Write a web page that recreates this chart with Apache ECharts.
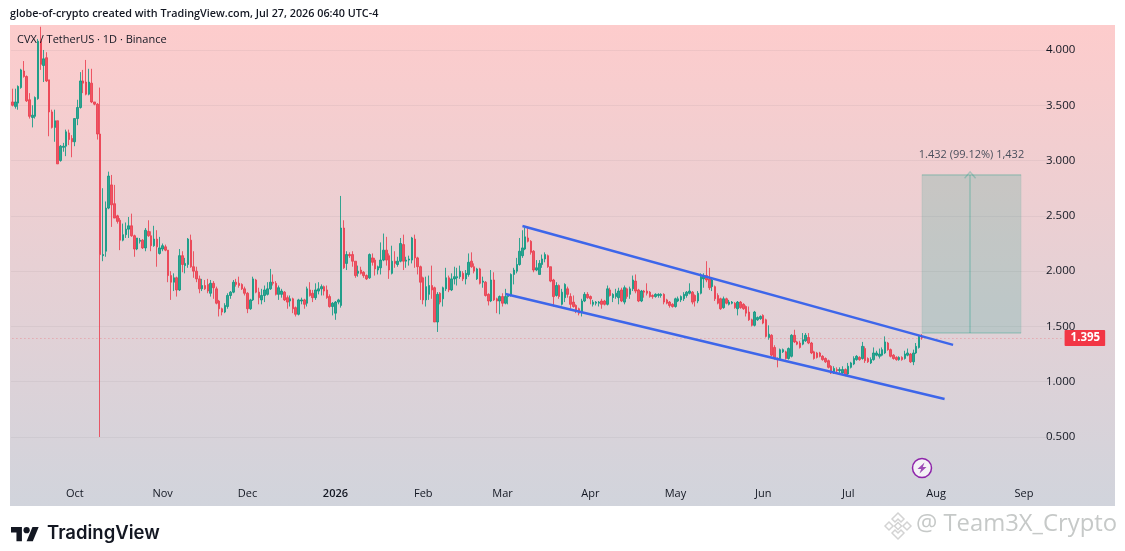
<!DOCTYPE html>
<html><head><meta charset="utf-8">
<style>html,body{margin:0;padding:0;background:#fff}#c{width:1125px;height:551px}</style>
<script src="https://cdn.jsdelivr.net/npm/echarts@6/dist/echarts.min.js"></script>
</head><body><div id="c"></div>
<script>
const startDate = Date.UTC(2025, 8, 9);
const axisDays = 372;
const opens = [
3.53,3.49,3.52,3.66,3.81,3.76,3.55,3.39,3.40,3.56,
4.08,3.86,3.93,3.73,3.44,3.30,3.36,3.00,3.12,3.13,
3.25,3.20,3.17,3.38,3.48,3.72,3.71,3.60,3.70,3.53,
3.51,3.24,2.14,2.18,2.57,2.78,2.61,2.50,2.46,2.28,
2.33,2.38,2.41,2.32,2.20,2.27,2.28,2.21,2.36,2.32,
2.23,2.29,2.16,2.20,2.22,2.19,1.96,1.90,1.94,1.83,
2.14,2.05,2.06,2.28,2.04,2.00,1.93,1.84,1.87,1.88,
1.80,1.89,1.84,1.73,1.66,1.63,1.68,1.78,1.81,1.90,
1.89,1.88,1.84,1.80,1.66,1.74,1.92,1.81,1.74,1.78,
1.79,1.84,1.90,1.89,1.79,1.79,1.81,1.76,1.73,1.75,
1.67,1.61,1.73,1.74,1.71,1.83,1.80,1.76,1.82,1.84,
1.86,1.83,1.77,1.68,1.62,1.72,1.69,2.39,2.07,2.15,
2.15,2.09,1.98,2.01,1.99,1.96,1.94,2.12,2.10,2.01,
2.03,2.10,2.19,2.14,1.98,2.09,2.06,2.09,2.24,2.09,
2.10,2.10,2.29,2.12,2.04,1.94,1.74,1.79,1.87,1.85,
1.54,1.80,1.75,1.84,1.94,1.83,1.93,1.94,1.95,1.98,
1.93,1.97,2.09,2.04,1.93,2.02,1.90,1.90,1.79,1.73,
1.92,1.75,1.73,1.77,1.71,1.77,1.78,1.97,2.00,2.06,
2.14,2.20,2.30,2.27,2.18,2.01,1.97,2.06,2.11,2.14,
2.04,1.92,1.78,1.87,1.70,1.76,1.84,1.77,1.72,1.69,
1.66,1.63,1.73,1.79,1.77,1.70,1.71,1.71,1.73,1.73,
1.70,1.83,1.76,1.77,1.76,1.83,1.72,1.84,1.79,1.84,
1.91,1.83,1.73,1.82,1.82,1.81,1.78,1.77,1.78,1.78,
1.79,1.74,1.72,1.70,1.68,1.73,1.74,1.75,1.78,1.80,
1.81,1.78,1.73,1.80,1.93,1.96,1.93,1.86,1.86,1.78,
1.75,1.67,1.75,1.70,1.71,1.71,1.66,1.72,1.70,1.68,
1.63,1.56,1.51,1.56,1.57,1.60,1.56,1.40,1.42,1.31,
1.21,1.21,1.27,1.27,1.21,1.23,1.42,1.36,1.35,1.34,
1.37,1.40,1.35,1.27,1.26,1.26,1.23,1.21,1.19,1.14,
1.08,1.11,1.10,1.08,1.11,1.07,1.13,1.16,1.20,1.22,
1.21,1.30,1.21,1.17,1.20,1.24,1.23,1.24,1.26,1.35,
1.29,1.24,1.22,1.20,1.22,1.21,1.24,1.25,1.18,1.26,
1.31,1.41];
const closes = [
3.50,3.53,3.67,3.82,3.76,3.54,3.40,3.41,3.57,4.08,
3.87,3.92,3.72,3.44,3.30,3.36,2.97,3.13,3.13,3.26,
3.19,3.17,3.38,3.48,3.72,3.70,3.60,3.71,3.53,3.51,
3.24,2.15,2.15,2.57,2.86,2.60,2.48,2.45,2.28,2.33,
2.38,2.41,2.32,2.20,2.30,2.28,2.21,2.37,2.32,2.23,
2.29,2.22,2.21,2.23,2.19,1.96,1.90,1.94,1.83,2.14,
2.06,2.07,2.29,2.04,2.00,1.93,1.84,1.87,1.84,1.82,
1.89,1.85,1.71,1.66,1.63,1.69,1.78,1.81,1.90,1.88,
1.87,1.84,1.80,1.66,1.74,1.93,1.81,1.76,1.78,1.83,
1.84,1.90,1.89,1.79,1.85,1.82,1.74,1.72,1.75,1.66,
1.61,1.74,1.74,1.70,1.84,1.78,1.76,1.83,1.84,1.86,
1.82,1.76,1.68,1.71,1.72,1.74,2.39,2.03,2.15,2.14,
2.09,1.96,2.00,1.98,1.96,1.93,2.15,2.08,2.02,2.04,
2.10,2.19,2.10,2.01,2.09,2.07,2.09,2.25,2.09,2.10,
2.11,2.30,2.12,2.04,1.90,1.74,1.86,1.87,1.83,1.54,
1.79,1.72,1.85,1.94,1.83,1.93,1.95,1.95,2.00,1.93,
1.98,2.08,2.04,2.00,2.02,1.89,1.91,1.78,1.73,1.92,
1.74,1.73,1.77,1.71,1.77,1.78,1.97,2.01,2.06,2.18,
2.21,2.31,2.27,2.17,2.01,2.03,2.07,2.11,2.15,2.04,
1.91,1.77,1.87,1.77,1.81,1.88,1.79,1.70,1.68,1.65,
1.62,1.73,1.79,1.76,1.75,1.72,1.72,1.72,1.70,1.70,
1.84,1.78,1.79,1.80,1.82,1.73,1.85,1.77,1.84,1.92,
1.82,1.73,1.82,1.81,1.80,1.77,1.77,1.79,1.79,1.79,
1.72,1.71,1.69,1.68,1.75,1.75,1.77,1.79,1.81,1.82,
1.72,1.73,1.80,1.95,1.96,1.92,1.85,1.92,1.75,1.71,
1.66,1.75,1.71,1.72,1.72,1.67,1.72,1.67,1.66,1.62,
1.56,1.51,1.63,1.58,1.59,1.53,1.41,1.43,1.24,1.21,
1.20,1.29,1.29,1.21,1.30,1.42,1.36,1.34,1.31,1.38,
1.42,1.35,1.26,1.21,1.22,1.23,1.20,1.18,1.13,1.08,
1.12,1.10,1.11,1.11,1.06,1.14,1.17,1.21,1.23,1.20,
1.32,1.19,1.18,1.20,1.26,1.26,1.25,1.29,1.36,1.29,
1.23,1.21,1.20,1.22,1.20,1.25,1.26,1.18,1.26,1.32,
1.41,1.395];
const lows = [
3.49,3.47,3.46,3.65,3.75,3.53,3.38,3.30,3.38,3.55,
3.82,3.71,3.71,3.22,3.29,3.17,2.97,2.99,3.08,3.04,
3.14,3.03,3.13,3.32,3.47,3.61,3.59,3.59,3.52,3.50,
3.19,0.50,2.09,2.13,2.56,2.40,2.48,2.43,2.19,2.27,
2.30,2.30,2.31,2.13,2.19,2.25,2.20,2.18,2.31,2.18,
2.22,2.04,2.15,2.18,2.18,1.90,1.74,1.82,1.77,1.82,
1.99,1.98,2.03,2.03,1.94,1.90,1.80,1.82,1.83,1.80,
1.77,1.75,1.70,1.59,1.60,1.62,1.66,1.75,1.80,1.86,
1.85,1.83,1.78,1.62,1.65,1.73,1.80,1.70,1.70,1.72,
1.78,1.83,1.87,1.78,1.74,1.76,1.73,1.66,1.68,1.62,
1.59,1.60,1.70,1.66,1.68,1.77,1.72,1.74,1.79,1.78,
1.78,1.75,1.67,1.60,1.56,1.70,1.67,2.02,2.01,2.12,
2.04,1.94,1.95,1.97,1.94,1.92,1.93,2.05,1.96,1.97,
1.97,2.09,2.05,1.93,1.97,2.03,2.04,2.08,2.01,2.03,
2.05,2.07,2.03,1.97,1.74,1.70,1.68,1.74,1.75,1.54,
1.45,1.70,1.68,1.82,1.81,1.82,1.88,1.87,1.93,1.91,
1.88,1.95,2.03,1.98,1.92,1.88,1.85,1.77,1.69,1.72,
1.73,1.62,1.61,1.68,1.70,1.70,1.77,1.88,1.98,2.05,
2.12,2.19,2.26,2.15,1.99,2.00,1.97,2.03,2.08,2.03,
1.90,1.68,1.77,1.75,1.69,1.72,1.76,1.66,1.67,1.62,
1.60,1.59,1.72,1.75,1.70,1.68,1.69,1.68,1.66,1.69,
1.69,1.77,1.72,1.75,1.70,1.72,1.70,1.75,1.75,1.82,
1.80,1.72,1.72,1.76,1.78,1.76,1.75,1.76,1.76,1.76,
1.70,1.70,1.67,1.67,1.67,1.72,1.72,1.73,1.76,1.79,
1.70,1.68,1.71,1.79,1.85,1.90,1.83,1.82,1.73,1.70,
1.65,1.66,1.70,1.69,1.70,1.66,1.60,1.66,1.65,1.59,
1.55,1.50,1.50,1.55,1.56,1.52,1.40,1.38,1.23,1.20,
1.13,1.20,1.26,1.20,1.20,1.22,1.35,1.33,1.30,1.33,
1.36,1.34,1.25,1.20,1.21,1.22,1.19,1.17,1.12,1.07,
1.07,1.08,1.08,1.07,1.05,1.06,1.12,1.15,1.19,1.19,
1.20,1.17,1.17,1.16,1.19,1.23,1.21,1.23,1.25,1.28,
1.22,1.20,1.19,1.19,1.19,1.20,1.23,1.17,1.15,1.25,
1.30,1.38];
const highs = [
3.65,3.65,3.68,3.83,3.90,3.77,3.61,3.50,3.58,4.10,
4.21,4.00,3.98,3.73,3.46,3.46,3.36,3.14,3.16,3.28,
3.28,3.23,3.38,3.55,3.80,3.82,3.91,3.83,3.83,3.53,
3.52,3.66,2.75,2.63,2.90,2.87,2.78,2.51,2.48,2.43,
2.44,2.49,2.52,2.33,2.30,2.30,2.29,2.39,2.46,2.36,
2.41,2.37,2.31,2.25,2.24,2.19,2.00,1.98,1.95,2.20,
2.18,2.12,2.30,2.33,2.18,2.04,1.96,1.93,1.92,1.93,
1.92,1.91,1.86,1.74,1.67,1.71,1.80,1.82,1.92,1.93,
1.95,1.89,1.86,1.81,1.75,1.95,1.93,1.85,1.84,1.87,
1.90,2.02,1.97,1.91,1.87,1.84,1.82,1.78,1.78,1.76,
1.68,1.75,1.76,1.75,1.86,1.90,1.83,1.89,1.90,1.88,
1.87,1.87,1.79,1.72,1.73,1.75,2.68,2.46,2.18,2.17,
2.18,2.09,2.05,2.04,2.00,1.97,2.16,2.16,2.12,2.05,
2.26,2.34,2.31,2.16,2.23,2.18,2.13,2.30,2.33,2.13,
2.14,2.31,2.33,2.13,2.05,1.95,1.95,1.96,2.05,1.86,
1.81,1.81,1.86,2.03,1.96,1.98,2.04,2.03,2.05,2.00,
2.01,2.16,2.17,2.07,2.03,2.03,1.95,1.91,1.80,2.01,
1.99,1.76,1.78,1.80,1.84,1.79,1.98,2.03,2.12,2.30,
2.37,2.39,2.39,2.28,2.19,2.10,2.10,2.15,2.17,2.15,
2.04,1.93,1.90,1.88,1.84,1.89,1.86,1.80,1.78,1.70,
1.67,1.75,1.81,1.81,1.78,1.74,1.73,1.73,1.75,1.74,
1.87,1.85,1.80,1.84,1.85,1.85,1.87,1.85,1.86,1.96,
1.97,1.84,1.83,1.83,1.89,1.82,1.79,1.80,1.80,1.80,
1.80,1.75,1.73,1.71,1.76,1.77,1.78,1.81,1.82,1.89,
1.82,1.79,1.82,1.98,1.98,2.09,2.03,1.94,1.87,1.80,
1.76,1.77,1.76,1.74,1.73,1.72,1.73,1.73,1.71,1.69,
1.68,1.57,1.64,1.59,1.60,1.61,1.57,1.51,1.43,1.33,
1.22,1.30,1.30,1.28,1.31,1.43,1.47,1.37,1.37,1.44,
1.44,1.44,1.36,1.28,1.27,1.27,1.24,1.22,1.20,1.15,
1.14,1.13,1.13,1.14,1.12,1.17,1.18,1.23,1.24,1.23,
1.36,1.32,1.22,1.22,1.31,1.28,1.30,1.31,1.41,1.36,
1.30,1.25,1.23,1.23,1.23,1.28,1.30,1.26,1.29,1.35,
1.42,1.43];
const upperChannelDates = ['2026-03-08','2026-08-07'];
const upperChannelPrices = [2.408,1.334];
const lowerChannelDates = ['2026-03-02','2026-08-04'];
const lowerChannelPrices = [1.793,0.844];
const rangeStart = '2026-07-27', rangeMid = '2026-08-13', rangeEnd = '2026-08-31';
const rangeLow = 1.44, rangeHigh = 2.872;
const rangeLabel = '1.432 (99.12%) 1,432';
const lastPrice = 1.395;
const monthNames = ['Jan','Feb','Mar','Apr','May','Jun','Jul','Aug','Sep','Oct','Nov','Dec'];
const headerText = 'globe-of-crypto created with TradingView.com, Jul 27, 2026 06:40 UTC-4';
const symbolText = 'CVX / TetherUS · 1D · Binance';
const brandText = 'TradingView';
const watermarkText = '@ Team3X_Crypto';

const dates = [];
for (let i = 0; i < axisDays; i++) {
  dates.push(new Date(startDate + i * 86400000).toISOString().slice(0, 10));
}
const candles = opens.map((o, i) => [o, closes[i], lows[i], highs[i]]);
const UP = '#089981', DOWN = '#ec3a4c';
const FONT = '"Open Sans", Roboto, sans-serif';

const chart = echarts.init(document.getElementById('c'), null, {renderer: 'canvas'});
chart.setOption({
  animation: false,
  backgroundColor: '#ffffff',
  grid: {left: 11, top: 25, width: 1054, height: 467.3, containLabel: false},
  xAxis: {
    type: 'category', data: dates, boundaryGap: true, offset: -4,
    axisLine: {show: false}, axisTick: {show: false}, splitLine: {show: false},
    axisLabel: {
      margin: 0, hideOverlap: false, fontFamily: FONT, fontSize: 11, color: '#131722',
      interval: (i, v) => v.slice(8) === '01',
      formatter: v => {
        const m = +v.slice(5, 7);
        return m === 1 ? '{b|' + v.slice(0, 4) + '}' : monthNames[m - 1];
      },
      rich: {b: {fontFamily: FONT, fontSize: 11, fontWeight: 600, color: '#131722'}}
    }
  },
  yAxis: {
    type: 'value', position: 'right', min: 0, max: 4.226, interval: 0.5, scale: false,
    axisLine: {show: false}, axisTick: {show: false},
    splitLine: {show: true, showMinLine: false, showMaxLine: false,
      lineStyle: {color: 'rgba(120,110,120,0.09)', width: 1}},
    axisLabel: {
      margin: -19, align: 'left', fontFamily: FONT, fontSize: 11.5, color: '#131722',
      showMinLabel: false, showMaxLabel: false,
      formatter: v => (v > 0 && v <= 4) ? v.toFixed(3) : ''
    }
  },
  series: [
    {
      type: 'candlestick', name: 'CVX', data: candles, barWidth: 2, z: 3,
      itemStyle: {color: UP, color0: DOWN, borderColor: UP, borderColor0: DOWN, borderWidth: 1, opacity: 0.82},
      markArea: {
        silent: true,
        itemStyle: {color: 'rgba(8,153,129,0.17)', borderColor: 'rgba(8,153,129,0.08)', borderWidth: 1},
        label: {show: true, position: 'top', distance: 14, color: '#4a4f5c',
          fontFamily: FONT, fontSize: 11, formatter: rangeLabel},
        data: [[{xAxis: rangeStart, yAxis: rangeLow}, {xAxis: rangeEnd, yAxis: rangeHigh}]]
      },
      markLine: {
        silent: true, symbol: 'none', animation: false,
        data: [
          [{coord: [rangeStart, rangeHigh], lineStyle: {color: 'rgba(8,153,129,0.2)', width: 1.5, type: 'solid'}, label: {show: false}},
           {coord: [rangeEnd, rangeHigh]}],
          [{coord: [rangeStart, rangeLow], lineStyle: {color: 'rgba(8,153,129,0.2)', width: 1.5, type: 'solid'}, label: {show: false}},
           {coord: [rangeEnd, rangeLow]}],
          [{coord: [rangeMid, rangeLow], symbol: 'none', lineStyle: {color: 'rgba(8,153,129,0.28)', width: 1.5, type: 'solid'}, label: {show: false}},
           {coord: [rangeMid, rangeHigh], symbol: 'path://M0,8 L6,0 L12,8 L11,9 L6,2.5 L1,9 Z', symbolSize: [12, 8]}],
          [{coord: [dates[0], lastPrice], lineStyle: {color: 'rgba(242,54,69,0.4)', width: 1, type: [1, 3]},
            label: {show: true, position: 'end', distance: 1, formatter: lastPrice.toFixed(3),
              color: '#fff', fontFamily: FONT, fontSize: 11.5, fontWeight: 700,
              backgroundColor: '#f23645', padding: [3, 5, 1, 6], borderRadius: 1}},
           {coord: [dates[axisDays - 1], lastPrice]}]
        ]
      }
    },
    {
      type: 'line', name: 'upper channel', symbol: 'none', z: 5,
      data: upperChannelDates.map((d, i) => [d, upperChannelPrices[i]]),
      lineStyle: {color: '#3d66ea', width: 2.4}
    },
    {
      type: 'line', name: 'lower channel', symbol: 'none', z: 5,
      data: lowerChannelDates.map((d, i) => [d, lowerChannelPrices[i]]),
      lineStyle: {color: '#3d66ea', width: 2.4}
    }
  ],
  graphic: {elements: [
    {type: 'rect', silent: true, z: -100, shape: {x: 10, y: 25, width: 1105, height: 481},
      style: {fill: new echarts.graphic.LinearGradient(0, 0, 0, 1, [
        {offset: 0, color: 'rgb(253,204,204)'}, {offset: 1, color: 'rgb(209,212,220)'}])}},
    {type: 'text', x: 10, y: 8, z: 10, style: {text: headerText, fill: '#131722', font: '600 10.8px ' + FONT}},
    {type: 'text', x: 17, y: 34, z: 10, style: {text: symbolText, fill: '#131722', font: '500 11px ' + FONT}},
    // TradingView logo
    {type: 'group', x: 11, y: 524, scaleX: 0.78, scaleY: 0.78, z: 10, children: [
      {type: 'polygon', shape: {points: [[0,4],[14,4],[14,22],[7,22],[7,11],[0,11]]}, style: {fill: '#131722'}},
      {type: 'polygon', shape: {points: [[27.5,4],[35.5,4],[28,22],[20,22]]}, style: {fill: '#131722'}},
      {type: 'circle', shape: {cx: 20, cy: 8, r: 4}, style: {fill: '#131722'}}
    ]},
    {type: 'text', x: 47, y: 524, z: 10, style: {text: brandText, fill: '#131722', font: '600 18.5px Inter, sans-serif'}},
    // watermark
    {type: 'group', x: 898, y: 526, z: 10, children: [
      {type: 'polygon', shape: {points: [[0,-13],[6,-7],[3,-4],[0,-7],[-3,-4],[-6,-7]]}, style: {fill: 'none', stroke: '#d3d3d3', lineWidth: 1.5}},
      {type: 'polygon', shape: {points: [[0,13],[6,7],[3,4],[0,7],[-3,4],[-6,7]]}, style: {fill: 'none', stroke: '#d3d3d3', lineWidth: 1.5}},
      {type: 'polygon', shape: {points: [[-13,0],[-9,-4],[-5,0],[-9,4]]}, style: {fill: 'none', stroke: '#d3d3d3', lineWidth: 1.5}},
      {type: 'polygon', shape: {points: [[13,0],[9,-4],[5,0],[9,4]]}, style: {fill: 'none', stroke: '#d3d3d3', lineWidth: 1.5}},
      {type: 'polygon', shape: {points: [[0,-3.5],[3.5,0],[0,3.5],[-3.5,0]]}, style: {fill: 'none', stroke: '#d3d3d3', lineWidth: 1.5}}
    ]},
    {type: 'text', x: 916, y: 512, z: 10, style: {text: watermarkText, fill: '#c6c9c8', font: '400 23.8px "Open Sans", sans-serif'}},
    // event marker
    {type: 'group', x: 922, y: 468, z: 10, children: [
      {type: 'circle', shape: {cx: 0, cy: 0, r: 9.5}, style: {fill: '#f4f2f6', stroke: '#8e24aa', lineWidth: 1.5}},
      {type: 'polygon', shape: {points: [[2.5,-5.5],[-4.5,1],[-0.8,1],[-2.5,5.5],[4.5,-1],[0.8,-1]]}, style: {fill: '#9c4bb5'}}
    ]}
  ]}
});
</script></body></html>
